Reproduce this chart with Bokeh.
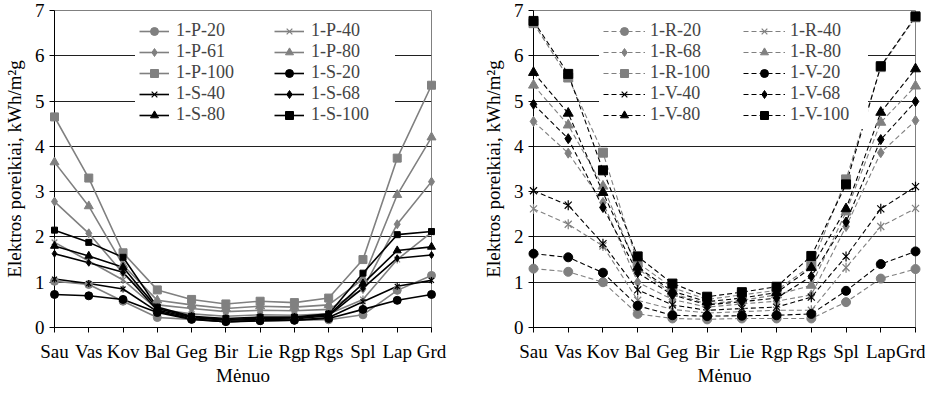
import math
from bokeh.plotting import figure
from bokeh.models import Range1d, FixedTicker, Legend, LegendItem
from bokeh.layouts import row
from bokeh.embed import file_html
from bokeh.resources import INLINE

months = ["Sau", "Vas", "Kov", "Bal", "Geg", "Bir", "Lie", "Rgp", "Rgs", "Spl", "Lap", "Grd"]
y_ticks = [0, 1, 2, 3, 4, 5, 6, 7]

# Left chart series
p20 = [1.02, 0.95, 0.58, 0.22, 0.18, 0.13, 0.15, 0.16, 0.17, 0.28, 0.82, 1.15]
p40 = [1.88, 1.47, 1.05, 0.40, 0.30, 0.25, 0.28, 0.27, 0.30, 0.62, 1.50, 2.10]
p61 = [2.78, 2.08, 1.20, 0.50, 0.42, 0.35, 0.38, 0.37, 0.40, 0.85, 2.28, 3.22]
p80 = [3.65, 2.68, 1.38, 0.60, 0.50, 0.42, 0.47, 0.45, 0.50, 1.07, 2.93, 4.20]
p100 = [4.65, 3.30, 1.65, 0.83, 0.62, 0.52, 0.58, 0.55, 0.65, 1.50, 3.74, 5.35]
s20 = [0.73, 0.70, 0.62, 0.33, 0.18, 0.13, 0.15, 0.16, 0.20, 0.40, 0.60, 0.73]
s40 = [1.07, 0.97, 0.85, 0.35, 0.20, 0.12, 0.15, 0.16, 0.22, 0.57, 0.91, 1.04]
s68 = [1.63, 1.43, 1.22, 0.38, 0.22, 0.16, 0.18, 0.19, 0.26, 0.87, 1.53, 1.60]
s80 = [1.80, 1.58, 1.33, 0.42, 0.23, 0.18, 0.20, 0.21, 0.28, 0.97, 1.70, 1.78]
s100 = [2.15, 1.88, 1.55, 0.45, 0.25, 0.20, 0.23, 0.23, 0.30, 1.20, 2.05, 2.12]

# Right chart series
r20 = [1.30, 1.23, 1.00, 0.30, 0.20, 0.18, 0.20, 0.20, 0.20, 0.56, 1.08, 1.29]
r40 = [2.62, 2.28, 1.80, 0.60, 0.40, 0.32, 0.35, 0.38, 0.38, 1.32, 2.23, 2.63]
r68 = [4.55, 3.85, 2.76, 1.00, 0.62, 0.45, 0.52, 0.58, 0.72, 2.23, 3.86, 4.57]
r80 = [5.35, 4.47, 3.12, 1.30, 0.75, 0.52, 0.60, 0.72, 0.93, 2.55, 4.53, 5.33]
r100 = [6.72, 5.52, 3.86, 1.43, 0.88, 0.62, 0.72, 0.82, 1.37, 3.27, 5.75, 6.85]
v20 = [1.63, 1.55, 1.21, 0.48, 0.27, 0.25, 0.26, 0.27, 0.30, 0.81, 1.40, 1.68]
v40 = [3.02, 2.70, 1.85, 0.83, 0.50, 0.38, 0.42, 0.45, 0.67, 1.57, 2.62, 3.11]
v68 = [4.93, 4.17, 2.65, 1.21, 0.72, 0.50, 0.57, 0.65, 1.13, 2.33, 4.15, 4.99]
v80 = [5.63, 4.73, 2.98, 1.33, 0.80, 0.57, 0.65, 0.77, 1.32, 2.62, 4.75, 5.71]
v100 = [6.77, 5.60, 3.47, 1.57, 0.97, 0.68, 0.78, 0.90, 1.58, 3.16, 5.77, 6.87]

GRAY = "#808080"
BLACK = "#000000"
FONT = "Liberation Serif"
xs = list(range(len(months)))


def make_fig(width, bl, br):
    p = figure(width=width, height=388, x_range=Range1d(0, 11), y_range=Range1d(0, 7),
               output_backend="svg", toolbar_location=None,
               min_border_left=bl, min_border_right=br, min_border_top=10, min_border_bottom=0)
    p.xaxis.ticker = FixedTicker(ticks=xs)
    p.xaxis.major_label_overrides = {i: m for i, m in enumerate(months)}
    p.yaxis.ticker = FixedTicker(ticks=y_ticks)
    p.xgrid.visible = False
    p.ygrid.ticker = FixedTicker(ticks=y_ticks[1:-1])
    p.ygrid.grid_line_color = "#202020"
    p.ygrid.grid_line_width = 1
    for ax in (p.xaxis[0], p.yaxis[0]):
        ax.minor_tick_line_color = None
        ax.major_tick_in = 0
        ax.major_tick_out = 5
        ax.axis_line_color = BLACK
        ax.major_tick_line_color = BLACK
        ax.major_label_text_font = FONT
        ax.major_label_text_font_size = "19px"
        ax.major_label_text_color = BLACK
        ax.axis_label_text_font = FONT
        ax.axis_label_text_font_size = "19px"
        ax.axis_label_text_font_style = "normal"
        ax.axis_label_text_color = BLACK
    p.xaxis.major_label_standoff = 8
    p.xaxis.axis_label_standoff = 0
    p.yaxis.major_label_standoff = 5
    p.yaxis.axis_label_standoff = 7
    p.xaxis.axis_label = "Mėnuo"
    p.yaxis.axis_label = "Elektros poreikiai, kWh/m²g"
    p.outline_line_color = GRAY
    p.outline_line_width = 1
    return p


def add_series(p, ys, color, marker, size, dash, lw):
    rs = [p.line(xs, ys, line_color=color, line_width=lw, line_dash=dash)]
    if marker == "asterisk":
        rs.append(p.scatter(xs, ys, marker="x", size=size, line_color=color,
                            line_width=1.2, level="overlay"))
        rs.append(p.scatter(xs, ys, marker="dash", size=size, angle=math.pi / 2,
                            line_color=color, line_width=1.2, level="overlay"))
    else:
        rs.append(p.scatter(xs, ys, marker=marker, size=size, fill_color=color,
                            line_color=color, level="overlay"))
    return rs


def add_legends(p, items, x1, x2, yb, gw, standoff, w1, w2):
    for its, x, w in ((items[0::2], x1, w1), (items[1::2], x2, w2)):
        leg = Legend(items=[LegendItem(label=l, renderers=r) for l, r in its],
                     location=(x, yb), orientation="vertical", padding=4, margin=0,
                     spacing=0, glyph_width=gw, glyph_height=20, label_height=20,
                     label_standoff=standoff, label_width=w,
                     label_text_font=FONT, label_text_font_size="18px",
                     label_text_line_height=1.0,
                     border_line_alpha=0, background_fill_color="white",
                     background_fill_alpha=1)
        p.add_layout(leg)


# ---- left chart
p1 = make_fig(479, 50, 48)
left_specs = [
    ("1-P-20", p20, GRAY, "circle", 8),
    ("1-P-40", p40, GRAY, "asterisk", 8),
    ("1-P-61", p61, GRAY, "diamond", 9),
    ("1-P-80", p80, GRAY, "triangle", 9),
    ("1-P-100", p100, GRAY, "square", 8),
    ("1-S-20", s20, BLACK, "circle", 8),
    ("1-S-40", s40, BLACK, "asterisk", 7),
    ("1-S-68", s68, BLACK, "diamond", 7),
    ("1-S-80", s80, BLACK, "triangle", 8),
    ("1-S-100", s100, BLACK, "square", 6),
]
items1 = []
for lab, ys, col, mk, sz in left_specs:
    items1.append((lab, add_series(p1, ys, col, mk, sz, "solid", 1.6)))
add_legends(p1, items1, 81, 216, 198, 30, 7, 90, 80)

# ---- right chart
p2 = make_fig(446, 50, 10)
right_specs = [
    ("1-R-20", r20, GRAY, "circle", 9),
    ("1-R-40", r40, GRAY, "asterisk", 10),
    ("1-R-68", r68, GRAY, "diamond", 10),
    ("1-R-80", r80, GRAY, "triangle", 10),
    ("1-R-100", r100, GRAY, "square", 9),
    ("1-V-20", v20, BLACK, "circle", 9),
    ("1-V-40", v40, BLACK, "asterisk", 10),
    ("1-V-68", v68, BLACK, "diamond", 10),
    ("1-V-80", v80, BLACK, "triangle", 10),
    ("1-V-100", v100, BLACK, "square", 9),
]
items2 = []
for lab, ys, col, mk, sz in right_specs:
    items2.append((lab, add_series(p2, ys, col, mk, sz, "5 3", 1.1)))
add_legends(p2, items2, 66, 206, 198, 42, 5, 85, 74)

layout = row(p1, p2)
open("out.html", "w").write(file_html(layout, INLINE))
